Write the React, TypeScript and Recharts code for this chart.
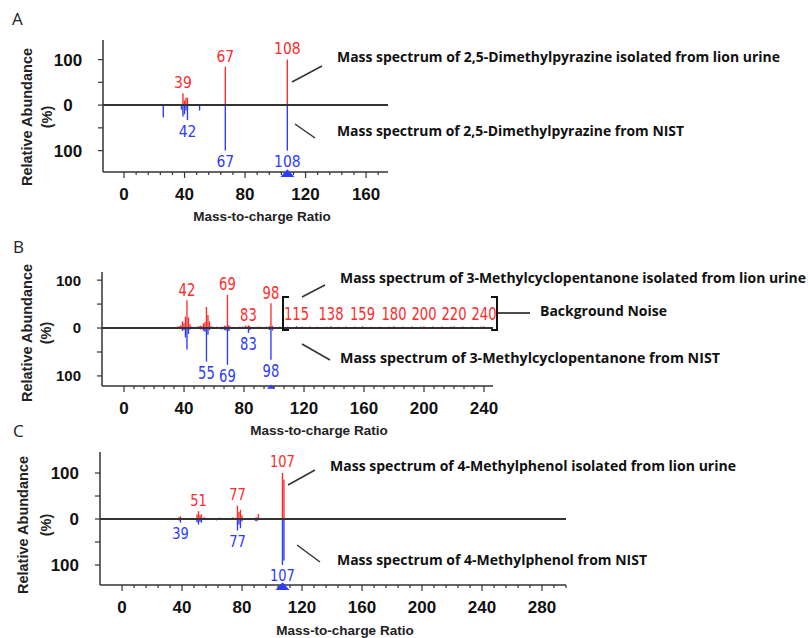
import React from 'react';
import { ComposedChart, Bar, XAxis, YAxis, ReferenceLine, ReferenceDot, LabelList } from 'recharts';

const RED = '#ff2a2a';
const BLUE = '#2b3bff';
const AXIS = '#333';
const W = 808;
const H = 638;

// A: 2,5-Dimethylpyrazine
const dmpLionMz = [39, 40, 41, 42, 67, 108];
const dmpLionAb = [26, 10, 16, 16, 84, 100];
const dmpNistMz = [26, 38, 39, 40, 41, 42, 50, 67, 108];
const dmpNistAb = [27, 10, 25, 20, 12, 33, 12, 100, 100];
const dmpLionLabels = [39, 67, 108];
const dmpNistLabels = [42, 67, 108];
const dmpIon = 108;
const dmpXTicks = [0, 40, 80, 120, 160];

// B: 3-Methylcyclopentanone (lion sample has background noise)
const mcpLionMz = [35, 36, 37, 38, 39, 40, 41, 42, 43, 44, 45, 47, 49, 50, 51, 52, 53, 54, 55, 56, 57, 58, 59, 60, 62, 63, 65, 66, 67, 68, 69, 70, 71, 73, 75, 77, 79, 81, 82, 83, 84, 85, 87, 89, 91, 93, 95, 96, 97, 98, 99, 100, 102, 104, 107, 109, 112, 115, 117, 119, 121, 124, 127, 129, 132, 135, 138, 140, 143, 146, 148, 151, 154, 157, 159, 162, 165, 168, 171, 174, 177, 180, 183, 186, 189, 192, 195, 198, 200, 203, 206, 209, 212, 215, 218, 220, 223, 226, 229, 232, 235, 238, 240, 243];
const mcpLionAb = [2, 3, 4, 6, 14, 10, 24, 58, 22, 8, 3, 2, 3, 4, 5, 4, 10, 12, 44, 27, 14, 4, 3, 2, 3, 2, 3, 2, 5, 4, 69, 6, 3, 2, 2, 3, 3, 5, 3, 6, 4, 2, 2, 3, 3, 2, 3, 2, 4, 52, 5, 2, 2, 3, 2, 3, 2, 4, 2, 3, 2, 3, 2, 3, 2, 3, 4, 2, 3, 2, 3, 2, 3, 2, 4, 2, 3, 2, 3, 2, 3, 4, 2, 3, 2, 3, 2, 3, 4, 2, 3, 2, 3, 2, 3, 4, 2, 3, 2, 3, 2, 3, 4, 2];
const mcpNistMz = [39, 40, 41, 42, 43, 44, 51, 53, 54, 55, 56, 57, 65, 67, 68, 69, 70, 83, 84, 97, 98, 99];
const mcpNistAb = [6, 4, 20, 45, 12, 3, 3, 6, 8, 70, 14, 4, 3, 4, 5, 77, 6, 10, 4, 4, 66, 5];
const mcpLionLabels = [42, 69, 83, 98];
const mcpNistLabels = [55, 69, 83, 98];
const mcpNoiseLabels = [115, 138, 159, 180, 200, 220, 240];
const NOISE_LABEL_LEVEL = 31;
const mcpIon = 98;
const mcpXTicks = [0, 40, 80, 120, 160, 200, 240];

// C: 4-Methylphenol
const mpLionMz = [38, 39, 45, 50, 51, 52, 53, 55, 62, 65, 72, 74, 76, 77, 78, 79, 80, 89, 90, 91, 107, 108, 193, 207, 208, 268, 283];
const mpLionAb = [4, 6, 2, 10, 17, 8, 10, 4, 2, 3, 3, 4, 3, 29, 16, 20, 8, 3, 4, 11, 100, 86, 2, 2, 2, 2, 2];
const mpNistMz = [38, 39, 50, 51, 52, 53, 63, 77, 78, 79, 80, 89, 90, 107, 108];
const mpNistAb = [3, 8, 7, 12, 6, 8, 3, 25, 12, 20, 5, 4, 5, 100, 90];
const mpLionLabels = [51, 77, 107];
const mpNistLabels = [39, 77, 107];
const mpIon = 107;
const mpXTicks = [0, 40, 80, 120, 160, 200, 240, 280];

type Row = { mz: number; lion: number; nist: number };

function buildRows(lm: number[], la: number[], nm: number[], na: number[]): Row[] {
  const map = new Map<number, Row>();
  lm.forEach((m, i) => {
    const r = map.get(m) ?? { mz: m, lion: 0, nist: 0 };
    r.lion = la[i];
    map.set(m, r);
  });
  nm.forEach((m, i) => {
    const r = map.get(m) ?? { mz: m, lion: 0, nist: 0 };
    r.nist = -na[i];
    map.set(m, r);
  });
  return [...map.values()].sort((a, b) => a.mz - b.mz);
}

type PanelProps = {
  lionMz: number[]; lionAb: number[]; nistMz: number[]; nistAb: number[];
  lionLabels: number[]; nistLabels: number[]; ion: number;
  xMajor: number[]; minorPerMajor: number;
  box: { left: number; right: number; top: number; bottom: number };
  xDomain: [number, number]; yDomain: [number, number];
  yTickFont: number; yTickCentered: boolean;
  labelFont: number; labelSquash: number; triangle: number;
  noiseLabels?: number[];
};

function Panel(p: PanelProps) {
  const rows = buildRows(p.lionMz, p.lionAb, p.nistMz, p.nistAb);
  const step = 40 / p.minorPerMajor;
  const xTicks: number[] = [];
  for (let v = 0; v <= p.xDomain[1]; v += step) xTicks.push(Math.round(v * 1000) / 1000);

  const XTick = (props: any) => {
    const { x, y, payload } = props;
    const v = payload.value;
    const major = p.xMajor.some((m) => Math.abs(m - v) < 0.01);
    return (
      <g>
        <line x1={x} x2={x} y1={y} y2={y + (major ? 6 : 3)} stroke={AXIS} strokeWidth={1.2} />
        {major && (
          <text x={x} y={y + 28} textAnchor="middle" fontFamily="'Liberation Sans', Arial, sans-serif" fontWeight="bold" fontSize={17} fill="#111">
            {Math.round(v)}
          </text>
        )}
      </g>
    );
  };

  const YTick = (props: any) => {
    const { x, y, payload } = props;
    const v = payload.value;
    const major = v % 100 === 0;
    return (
      <g>
        <line x1={x - 5} x2={x} y1={y} y2={y} stroke={AXIS} strokeWidth={1.2} />
        {major && (
          <text
            x={p.yTickCentered ? x - 35 : x - 21}
            y={y + p.yTickFont * 0.36}
            textAnchor={p.yTickCentered ? 'middle' : 'end'}
            fontFamily="'Liberation Sans', Arial, sans-serif"
            fontWeight="bold"
            fontSize={p.yTickFont}
            fill="#111"
          >
            {Math.abs(v)}
          </text>
        )}
      </g>
    );
  };

  const barLabel = (list: number[], color: string, up: boolean) => (props: any) => {
    const { x, y, width, height, value } = props;
    if (!list.includes(value) || !height) return null;
    const cx = Number(x) + Number(width) / 2;
    const a = Number(y);
    const b = Number(y) + Number(height);
    const end = up ? Math.min(a, b) : Math.max(a, b);
    const ty = (up ? end - 11 : end + 11) + p.labelFont * 0.36;
    return (
      <text transform={`translate(${cx},${ty}) scale(${p.labelSquash},1)`} textAnchor="middle" fontFamily="'DejaVu Sans', sans-serif" fontSize={p.labelFont} fill={color}>
        {value}
      </text>
    );
  };

  const t = p.triangle;

  return (
    <div style={{ position: 'absolute', left: 0, top: 0 }}>
      <ComposedChart
        width={W}
        height={H}
        data={rows}
        stackOffset="sign"
        margin={{ top: p.box.top, left: p.box.left - 1, right: W - p.box.right, bottom: H - p.box.bottom - 1 }}
      >
        <XAxis
          type="number"
          dataKey="mz"
          domain={p.xDomain}
          allowDataOverflow
          ticks={xTicks}
          interval={0}
          height={1}
          tickSize={0}
          tickMargin={0}
          tickLine={false}
          tick={<XTick />}
          axisLine={{ stroke: AXIS, strokeWidth: 1.5 }}
        />
        <YAxis
          type="number"
          domain={p.yDomain}
          allowDataOverflow
          ticks={[-100, -50, 0, 50, 100]}
          interval={0}
          width={1}
          tickSize={0}
          tickMargin={0}
          tickLine={false}
          tick={<YTick />}
          axisLine={{ stroke: AXIS, strokeWidth: 1.5 }}
        />
        <Bar dataKey="lion" stackId="s" fill={RED} barSize={2} isAnimationActive={false}>
          <LabelList dataKey="mz" content={barLabel(p.lionLabels, RED, true)} />
        </Bar>
        <Bar dataKey="nist" stackId="s" fill={BLUE} barSize={2} isAnimationActive={false}>
          <LabelList dataKey="mz" content={barLabel(p.nistLabels, BLUE, false)} />
        </Bar>
        <ReferenceLine y={0} stroke="#333" strokeWidth={2} />
        <ReferenceDot
          x={p.ion}
          y={p.yDomain[0]}
          r={0}
          ifOverflow="visible"
          shape={(s: any) => (
            <polygon points={`${s.cx - t},${s.cy + t * 0.7} ${s.cx + t},${s.cy + t * 0.7} ${s.cx},${s.cy - t * 0.4}`} fill={BLUE} />
          )}
        />
        {(p.noiseLabels ?? []).map((m) => (
          <ReferenceDot
            key={m}
            x={m}
            y={NOISE_LABEL_LEVEL}
            r={0}
            ifOverflow="visible"
            shape={(s: any) => (
              <text transform={`translate(${s.cx},${s.cy + p.labelFont * 0.36}) scale(${p.labelSquash},1)`} textAnchor="middle" fontFamily="'DejaVu Sans', sans-serif" fontSize={p.labelFont} fill={RED}>
                {m}
              </text>
            )}
          />
        ))}
      </ComposedChart>
    </div>
  );
}

const notes = [
  { text: 'Mass spectrum of 2,5-Dimethylpyrazine isolated from lion urine', x: 337, y: 62, w: 443 },
  { text: 'Mass spectrum of 2,5-Dimethylpyrazine from NIST', x: 337, y: 136, w: 347 },
  { text: 'Mass spectrum of 3-Methylcyclopentanone isolated from lion urine', x: 340, y: 283, w: 466 },
  { text: 'Background Noise', x: 540, y: 316, w: 127 },
  { text: 'Mass spectrum of 3-Methylcyclopentanone from NIST', x: 340, y: 363, w: 380 },
  { text: 'Mass spectrum of 4-Methylphenol isolated from lion urine', x: 330, y: 471, w: 406 },
  { text: 'Mass spectrum of 4-Methylphenol from NIST', x: 337, y: 565, w: 310 },
];

const leaders = [
  [292, 82, 322, 66],
  [295, 124, 315, 138],
  [302, 297, 325, 285],
  [302, 344, 330, 360],
  [288, 485, 315, 470],
  [297, 545, 320, 562],
];

const panelLetters = [
  { t: 'A', x: 12, y: 25 },
  { t: 'B', x: 13, y: 253 },
  { t: 'C', x: 13, y: 437 },
];

const yTitles = [
  { x1: 27, x2: 47, y: 117 },
  { x1: 27, x2: 46, y: 333 },
  { x1: 23, x2: 46, y: 525 },
];

const xTitles = [
  { x: 262, y: 221 },
  { x: 319, y: 435 },
  { x: 345, y: 635 },
];

function Overlay() {
  const bold = "'Liberation Sans', Arial, sans-serif";
  return (
    <svg width={W} height={H} style={{ position: 'absolute', left: 0, top: 0, pointerEvents: 'none' }}>
      {panelLetters.map((l) => (
        <text key={l.t} x={l.x} y={l.y} fontFamily="'Open Sans', sans-serif" fontSize={17} fill="#222">
          {l.t}
        </text>
      ))}
      {yTitles.map((yt, i) => (
        <g key={i} fontFamily={bold} fontWeight="bold" fontSize={14.5} fill="#222" textAnchor="middle">
          <text transform={`translate(${yt.x1 + 5},${yt.y}) rotate(-90)`}>Relative Abundance</text>
          <text transform={`translate(${yt.x2 + 5},${yt.y}) rotate(-90)`}>(%)</text>
        </g>
      ))}
      {xTitles.map((xt, i) => (
        <text key={i} x={xt.x} y={xt.y} textAnchor="middle" fontFamily={bold} fontWeight="bold" fontSize={13.5} fill="#222">
          Mass-to-charge Ratio
        </text>
      ))}
      {notes.map((n, i) => (
        <text key={i} x={n.x} y={n.y} textLength={n.w} lengthAdjust="spacingAndGlyphs" fontFamily="'Open Sans', sans-serif" fontWeight={700} fontSize={14} fill="#111">
          {n.text}
        </text>
      ))}
      {leaders.map((l, i) => (
        <line key={i} x1={l[0]} y1={l[1]} x2={l[2]} y2={l[3]} stroke="#333" strokeWidth={1.5} />
      ))}
      <path d="M289,297 H283 V330 H289" fill="none" stroke="#111" strokeWidth={2} />
      <path d="M491,297 H497 V330 H491" fill="none" stroke="#111" strokeWidth={2} />
      <line x1={497} y1={313} x2={530} y2={313} stroke="#111" strokeWidth={1.5} />
    </svg>
  );
}

export default function App() {
  return (
    <div style={{ position: 'absolute', left: 0, top: 0, width: W, height: H, background: '#fff', overflow: 'hidden' }}>
      <Panel
        lionMz={dmpLionMz} lionAb={dmpLionAb} nistMz={dmpNistMz} nistAb={dmpNistAb}
        lionLabels={dmpLionLabels} nistLabels={dmpNistLabels} ion={dmpIon}
        xMajor={dmpXTicks} minorPerMajor={5}
        box={{ left: 103, right: 388, top: 40, bottom: 172 }}
        xDomain={[-13.9, 174.5]} yDomain={[-147, 143]}
        yTickFont={17} yTickCentered
        labelFont={16} labelSquash={0.87} triangle={7}
      />
      <Panel
        lionMz={mcpLionMz} lionAb={mcpLionAb} nistMz={mcpNistMz} nistAb={mcpNistAb}
        lionLabels={mcpLionLabels} nistLabels={mcpNistLabels} ion={mcpIon}
        xMajor={mcpXTicks} minorPerMajor={6}
        box={{ left: 102, right: 493, top: 272, bottom: 386 }}
        xDomain={[-14.7, 246]} yDomain={[-121, 117]}
        yTickFont={15} yTickCentered={false}
        labelFont={18} labelSquash={0.73} triangle={4}
        noiseLabels={mcpNoiseLabels}
      />
      <Panel
        lionMz={mpLionMz} lionAb={mpLionAb} nistMz={mpNistMz} nistAb={mpNistAb}
        lionLabels={mpLionLabels} nistLabels={mpNistLabels} ion={mpIon}
        xMajor={mpXTicks} minorPerMajor={5}
        box={{ left: 100, right: 566, top: 452, bottom: 585 }}
        xDomain={[-14.7, 296]} yDomain={[-143.5, 145.7]}
        yTickFont={17} yTickCentered={false}
        labelFont={15} labelSquash={0.87} triangle={7}
      />
      <Overlay />
    </div>
  );
}
